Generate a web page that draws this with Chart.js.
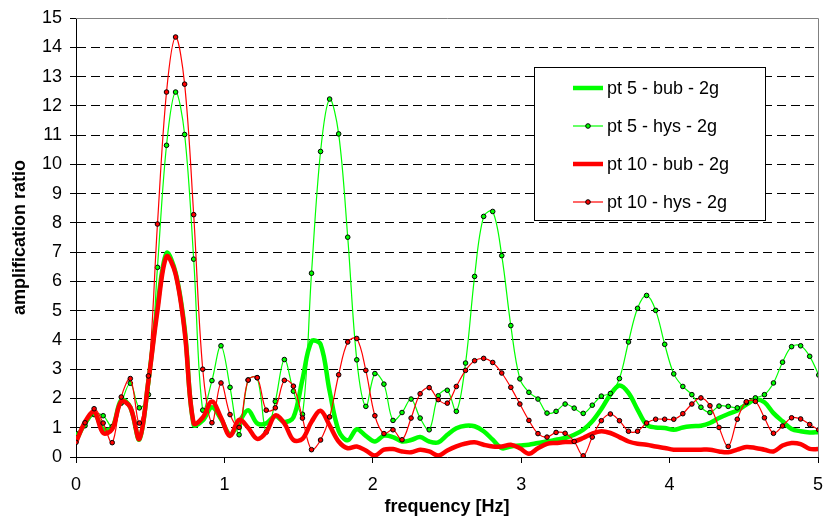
<!DOCTYPE html>
<html>
<head>
<meta charset="utf-8">
<title>amplification ratio</title>
<script src="https://cdn.jsdelivr.net/npm/chart.js@4.4.1/dist/chart.umd.min.js"></script>
<style>
  html, body { margin: 0; padding: 0; background: #fff; overflow: hidden; }
  #wrap { width: 823px; height: 529px; }
</style>
</head>
<body>
<div id="wrap"><canvas id="chart" width="823" height="529"></canvas></div>
<script>
// frequency steps of the spectra [Hz]
const freq = [
  0, 0.061, 0.122, 0.183, 0.244, 0.305, 0.366, 0.427, 0.488, 0.549,
  0.610, 0.671, 0.732, 0.793, 0.854, 0.916, 0.977, 1.038, 1.099, 1.160,
  1.221, 1.282, 1.343, 1.404, 1.465, 1.526, 1.587, 1.648, 1.709, 1.770,
  1.831, 1.892, 1.953, 2.014, 2.075, 2.136, 2.197, 2.258, 2.319, 2.380,
  2.441, 2.502, 2.563, 2.625, 2.686, 2.747, 2.808, 2.869, 2.930, 2.991,
  3.052, 3.113, 3.174, 3.235, 3.296, 3.357, 3.418, 3.479, 3.540, 3.601,
  3.662, 3.723, 3.784, 3.845, 3.906, 3.967, 4.028, 4.089, 4.150, 4.211,
  4.272, 4.333, 4.395, 4.456, 4.517, 4.578, 4.639, 4.700, 4.761, 4.822,
  4.883, 4.944, 5.005
];

const pt5Bub = [
  0.55, 1.15, 1.50, 0.95, 1.00, 1.95, 1.70, 0.60, 2.60, 5.15,
  6.97, 6.30, 4.40, 1.10, 1.25, 1.70, 1.30, 0.78, 1.20, 1.60,
  1.15, 1.15, 1.40, 1.20, 1.35, 2.65, 3.95, 3.85, 2.25, 0.90,
  0.57, 0.95, 0.72, 0.53, 0.73, 0.68, 0.53, 0.58, 0.68, 0.53,
  0.50, 0.76, 0.98, 1.07, 1.05, 0.88, 0.59, 0.30, 0.36, 0.39,
  0.42, 0.48, 0.53, 0.59, 0.65, 0.76, 0.93, 1.22, 1.64, 2.13,
  2.44, 2.19, 1.62, 1.10, 1.01, 0.99, 0.93, 1.01, 1.05, 1.07,
  1.16, 1.33, 1.47, 1.59, 1.79, 1.96, 1.87, 1.50, 1.22, 0.96,
  0.88, 0.84, 0.85
];

const pt5Hys = [
  0.80, 1.07, 1.45, 1.41, 1.04, 1.84, 2.52, 1.68, 2.13, 6.48,
  10.65, 12.47, 11.02, 6.76, 1.60, 2.61, 3.80, 2.38, 0.76, 2.63,
  2.71, 0.85, 1.90, 3.33, 2.25, 1.46, 6.28, 10.44, 12.23, 11.04,
  7.51, 3.32, 1.73, 2.85, 2.49, 1.25, 1.52, 1.98, 1.33, 0.93,
  2.09, 2.28, 1.56, 3.21, 6.17, 8.22, 8.39, 6.88, 4.49, 2.67,
  2.21, 1.98, 1.50, 1.56, 1.81, 1.67, 1.49, 1.77, 2.08, 2.17,
  2.68, 3.93, 5.08, 5.52, 5.01, 3.85, 2.84, 2.41, 2.13, 1.70,
  1.52, 1.74, 1.73, 1.68, 1.86, 2.02, 2.13, 2.53, 3.24, 3.77,
  3.80, 3.44, 2.80
];

const pt10Bub = [
  0.50, 1.20, 1.55, 0.82, 0.95, 1.90, 1.70, 0.62, 2.60, 5.00,
  6.85, 6.25, 4.30, 1.15, 1.35, 1.90, 1.35, 0.72, 1.27, 1.00,
  0.62, 0.85, 1.42, 1.15, 0.58, 0.62, 1.20, 1.58, 1.08, 0.53,
  0.30, 0.36, 0.22, 0.05, 0.25, 0.27, 0.19, 0.16, 0.25, 0.19,
  0.05, 0.22, 0.36, 0.46, 0.50, 0.42, 0.36, 0.36, 0.42, 0.30,
  0.11, 0.30, 0.45, 0.48, 0.51, 0.53, 0.65, 0.80, 0.88, 0.82,
  0.68, 0.53, 0.45, 0.42, 0.36, 0.31, 0.25, 0.25, 0.25, 0.25,
  0.25, 0.19, 0.16, 0.25, 0.34, 0.31, 0.25, 0.19, 0.39, 0.48,
  0.44, 0.28, 0.27
];

const pt10Hys = [
  0.50, 1.17, 1.65, 1.16, 0.49, 2.05, 2.68, 1.16, 2.77, 7.96,
  12.47, 14.35, 12.74, 8.28, 3.00, 1.17, 2.53, 1.45, 1.01, 2.63,
  2.71, 1.60, 1.68, 2.62, 2.42, 1.33, 0.25, 0.58, 1.37, 2.81,
  3.93, 4.05, 2.96, 1.41, 0.80, 0.93, 0.59, 1.33, 2.16, 2.37,
  1.96, 1.84, 2.41, 2.96, 3.29, 3.37, 3.23, 2.87, 2.38, 1.81,
  1.25, 0.80, 0.68, 0.84, 0.81, 0.53, 0.04, 0.68, 1.24, 1.47,
  1.24, 0.88, 0.88, 1.16, 1.29, 1.29, 1.29, 1.48, 1.81, 2.02,
  1.75, 1.01, 0.36, 1.29, 1.89, 1.90, 1.34, 0.81, 1.06, 1.34,
  1.30, 1.11, 0.93
];

const seriesLabels = ['pt 5 - bub - 2g', 'pt 5 - hys - 2g', 'pt 10 - bub - 2g', 'pt 10 - hys - 2g'];

const FONT = '"Liberation Sans", Arial, sans-serif';
const GREEN = '#00ff00';
const RED = '#ff0000';

function toPoints(values) {
  return freq.map((f, i) => ({ x: f, y: values[i] }));
}

// gray frame on top/right of the plot + boxed legend inside the plot
const framePlugin = {
  id: 'frame',
  beforeDatasetsDraw(chart) {
    const { ctx, chartArea: a } = chart;
    ctx.save();
    ctx.strokeStyle = '#808080';
    ctx.lineWidth = 1;
    ctx.beginPath();
    ctx.moveTo(a.left, Math.round(a.top) + 0.5);
    ctx.lineTo(Math.round(a.right) + 0.5, Math.round(a.top) + 0.5);
    ctx.lineTo(Math.round(a.right) + 0.5, a.bottom);
    ctx.stroke();
    ctx.restore();
  },
  afterDraw(chart) {
    const ctx = chart.ctx;
    const box = { x: 534.5, y: 67.5, w: 231, h: 153 };
    ctx.save();
    ctx.fillStyle = '#fff';
    ctx.strokeStyle = '#000';
    ctx.lineWidth = 1;
    ctx.fillRect(box.x, box.y, box.w, box.h);
    ctx.strokeRect(box.x, box.y, box.w, box.h);

    ctx.font = '18px ' + FONT;
    ctx.textBaseline = 'middle';
    ctx.textAlign = 'left';
    chart.data.datasets.forEach((ds, i) => {
      const y = 88 + i * 38;
      ctx.strokeStyle = ds.borderColor;
      ctx.lineWidth = ds.borderWidth;
      ctx.beginPath();
      ctx.moveTo(573, y);
      ctx.lineTo(603, y);
      ctx.stroke();
      if (ds.pointRadius > 0) {
        ctx.beginPath();
        ctx.arc(588, y, ds.pointRadius, 0, Math.PI * 2);
        ctx.fillStyle = ds.pointBackgroundColor;
        ctx.fill();
        ctx.lineWidth = 1;
        ctx.strokeStyle = '#000';
        ctx.stroke();
      }
      ctx.fillStyle = '#000';
      ctx.fillText(ds.label, 607, y + 1);
    });
    ctx.restore();
  }
};

const ctx = document.getElementById('chart').getContext('2d');

new Chart(ctx, {
  type: 'line',
  data: {
    datasets: [{
      label: seriesLabels[0],
      data: toPoints(pt5Bub),
      borderColor: GREEN,
      borderWidth: 4.5,
      pointRadius: 0,
      order: 4
    }, {
      label: seriesLabels[1],
      data: toPoints(pt5Hys),
      borderColor: GREEN,
      borderWidth: 1.2,
      pointRadius: 2.3,
      pointBorderWidth: 1,
      pointBorderColor: '#000',
      pointBackgroundColor: GREEN,
      order: 3
    }, {
      label: seriesLabels[2],
      data: toPoints(pt10Bub),
      borderColor: RED,
      borderWidth: 4.5,
      pointRadius: 0,
      order: 2
    }, {
      label: seriesLabels[3],
      data: toPoints(pt10Hys),
      borderColor: RED,
      borderWidth: 1.2,
      pointRadius: 2.3,
      pointBorderWidth: 1,
      pointBorderColor: '#000',
      pointBackgroundColor: RED,
      order: 1
    }]
  },
  options: {
    responsive: false,
    animation: false,
    layout: { padding: { left: 0, top: 18, right: 5, bottom: 0 } },
    elements: { line: { tension: 0.35 } },
    plugins: {
      legend: { display: false },
      tooltip: { enabled: false }
    },
    scales: {
      x: {
        type: 'linear',
        min: 0,
        max: 5,
        ticks: { stepSize: 1, color: '#000', padding: 11, font: { family: FONT, size: 18 } },
        grid: { drawOnChartArea: false, drawTicks: true, tickLength: 6, tickColor: '#000' },
        border: { color: '#000', width: 1 },
        title: {
          display: true,
          text: 'frequency [Hz]',
          color: '#000',
          font: { family: FONT, size: 18, weight: 'bold' },
          padding: { top: 0, bottom: 11 }
        },
        afterFit(s) { s.height = 72; s.paddingLeft = 0; s.paddingRight = 0; }
      },
      y: {
        min: 0,
        max: 15,
        ticks: { stepSize: 1, color: '#000', padding: 8, font: { family: FONT, size: 18 } },
        grid: {
          color: c => (c.tick && (c.tick.value === 0 || c.tick.value === 15)) ? 'rgba(0,0,0,0)' : '#000',
          lineWidth: 1,
          tickLength: 6,
          tickColor: '#000'
        },
        border: { color: '#000', width: 1, dash: [9, 5] },
        title: {
          display: true,
          text: 'amplification ratio',
          color: '#000',
          font: { family: FONT, size: 18, weight: 'bold' },
          padding: { top: 9, bottom: 0 }
        },
        afterFit(s) { s.width = 76; s.paddingTop = 0; s.paddingBottom = 0; }
      }
    }
  },
  plugins: [framePlugin]
});
</script>
</body>
</html>
